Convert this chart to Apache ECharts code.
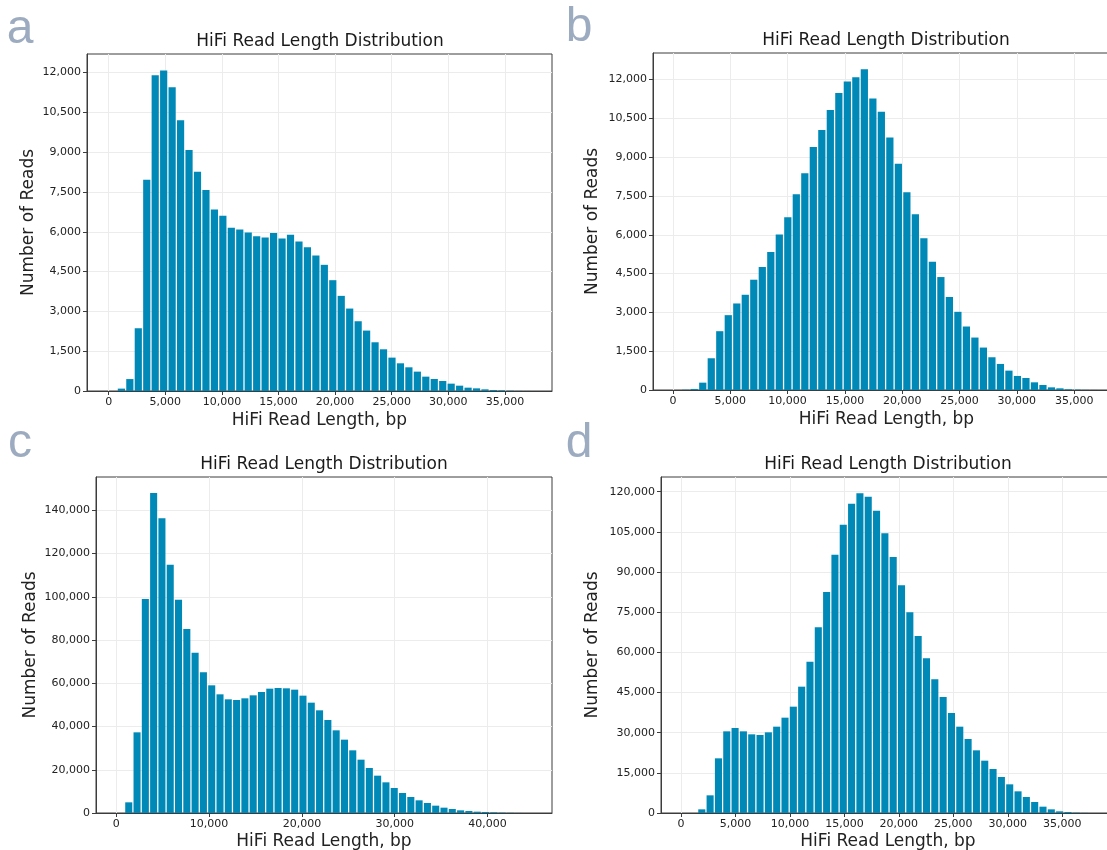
<!DOCTYPE html>
<html><head><meta charset="utf-8">
<script src="https://cdn.jsdelivr.net/npm/echarts@6/dist/echarts.min.js"></script>
<style>html,body{margin:0;padding:0;background:#fff}#c{width:1107px;height:850px}</style>
</head><body><div id="c"></div>
<script>
// ---- data (bin counts) ----
const countsA = [0, 90, 450, 2365, 7962, 11900, 12075, 11447, 10201, 9082, 8264, 7572, 6843, 6604, 6151, 6088, 5975, 5836, 5786, 5950, 5748, 5887, 5635, 5421, 5107, 4755, 4176, 3585, 3107, 2629, 2277, 1836, 1572, 1258, 1044, 893, 730, 541, 453, 377, 277, 201, 126, 100, 63, 38, 25, 12, 5, 2];
const countsB = [0, 10, 40, 284, 1227, 2274, 2894, 3346, 3682, 4264, 4755, 5336, 6008, 6680, 7571, 8385, 9393, 10052, 10827, 11486, 11925, 12093, 12403, 11266, 10762, 9767, 8747, 7649, 6796, 5866, 4961, 4367, 3592, 3023, 2455, 2028, 1641, 1266, 1008, 749, 543, 465, 297, 194, 103, 65, 26, 13, 5, 2];
const countsC = [0, 4934, 37311, 98982, 148011, 136293, 114862, 98674, 85106, 74160, 65063, 59050, 54887, 52575, 52266, 53037, 54425, 55967, 57508, 57817, 57663, 57046, 54271, 51033, 47487, 43016, 38236, 33919, 28985, 24668, 20814, 17268, 14184, 11563, 9251, 7400, 5859, 4625, 3392, 2467, 1850, 1233, 925, 617, 463, 308, 154, 80, 30, 10];
const countsD = [0, 0, 1369, 6598, 20416, 30499, 31744, 30499, 29379, 29130, 30126, 32242, 35603, 39711, 47180, 56517, 69339, 82535, 96477, 107681, 115523, 119382, 118138, 112909, 104444, 95605, 85024, 74941, 66102, 57762, 49919, 43321, 37346, 32242, 27636, 23403, 19544, 16432, 13444, 10706, 8092, 5975, 4108, 2365, 1369, 622, 373, 124, 40, 10];
// bin widths (bp) of each histogram
const binWidths = [747, 742, 894, 764];
// tick labels
const xTicksA = [0, 5000, 10000, 15000, 20000, 25000, 30000, 35000];
const xTicksB = [0, 5000, 10000, 15000, 20000, 25000, 30000, 35000];
const xTicksC = [0, 10000, 20000, 30000, 40000];
const xTicksD = [0, 5000, 10000, 15000, 20000, 25000, 30000, 35000];
const yTicksA = [0, 1500, 3000, 4500, 6000, 7500, 9000, 10500, 12000];
const yTicksB = [0, 1500, 3000, 4500, 6000, 7500, 9000, 10500, 12000];
const yTicksC = [0, 20000, 40000, 60000, 80000, 100000, 120000, 140000];
const yTicksD = [0, 15000, 30000, 45000, 60000, 75000, 90000, 105000, 120000];
const panelLetters = ['a', 'b', 'c', 'd'];
const titleText = 'HiFi Read Length Distribution';
const xName = 'HiFi Read Length, bp';
const yName = 'Number of Reads';

// ---- layout / styling ----
const counts = [countsA, countsB, countsC, countsD];
const xTicks = [xTicksA, xTicksB, xTicksC, xTicksD];
const yTicks = [yTicksA, yTicksB, yTicksC, yTicksD];
const layout = [
  {left: 87, top: 54, width: 465, height: 337, xMin: -1917, xMax: 39160, yMax: 12700, xInt: 5000, yInt: 1500, yGap: 50, xGap: 21, letter: [20, 30], title: [320, 42]},
  {left: 653, top: 53, width: 467, height: 337, xMin: -1745, xMax: 39000, yMax: 13030, xInt: 5000, yInt: 1500, yGap: 52, xGap: 21, letter: [579, 28], title: [886, 41]},
  {left: 96, top: 477, width: 456, height: 336, xMin: -2188, xMax: 46950, yMax: 155400, xInt: 10000, yInt: 20000, yGap: 57, xGap: 20, letter: [20, 444], title: [324, 465]},
  {left: 661, top: 477, width: 454, height: 336, xMin: -1835, xMax: 39844, yMax: 125480, xInt: 5000, yInt: 15000, yGap: 60, xGap: 20, letter: [579, 444], title: [888, 465]}
];
const FONT = 'DejaVu Sans';
const frameColor = '#3c3c3c';
const gridColor = '#ececec';
const barColor = '#0089b7';
const fmt = v => Number(v).toLocaleString('en-US');

const grids = [], xAxes = [], yAxes = [], series = [], graphics = [];
layout.forEach((p, i) => {
  grids.push({left: p.left, top: p.top, width: p.width, height: p.height, show: true,
    borderColor: frameColor, borderWidth: 1, backgroundColor: 'transparent', containLabel: false, outerBoundsMode: 'none'});
  xAxes.push({type: 'value', gridIndex: i, min: p.xMin, max: p.xMax, minInterval: p.xInt, maxInterval: p.xInt, splitNumber: 8,
    axisLine: {show: true, onZero: false, lineStyle: {color: frameColor, width: 1}},
    axisTick: {show: true, length: 4, lineStyle: {color: frameColor}, customValues: xTicks[i]},
    axisLabel: {customValues: xTicks[i], color: '#222', fontFamily: FONT, fontSize: 11, margin: 6, formatter: fmt},
    splitLine: {show: true, lineStyle: {color: gridColor, width: 1}},
    name: xName, nameLocation: 'middle', nameGap: p.xGap,
    nameTextStyle: {fontFamily: FONT, fontSize: 17, color: '#222'}});
  yAxes.push({type: 'value', gridIndex: i, min: 0, max: p.yMax, minInterval: p.yInt, maxInterval: p.yInt, splitNumber: 8,
    axisLine: {show: true, onZero: false, lineStyle: {color: frameColor, width: 1}},
    axisTick: {show: true, length: 4, lineStyle: {color: frameColor}, customValues: yTicks[i]},
    axisLabel: {customValues: yTicks[i], color: '#222', fontFamily: FONT, fontSize: 11, margin: 6, formatter: fmt},
    splitLine: {show: true, lineStyle: {color: gridColor, width: 1}},
    name: yName, nameLocation: 'middle', nameGap: p.yGap,
    nameTextStyle: {fontFamily: FONT, fontSize: 17, color: '#222'}});
  series.push({type: 'bar', xAxisIndex: i, yAxisIndex: i, barWidth: '85%', silent: true,
    itemStyle: {color: barColor},
    data: counts[i].map((c, k) => [binWidths[i] * (k + 0.5), c])});
  graphics.push({type: 'text', x: p.title[0], y: p.title[1], silent: true,
    style: {text: titleText, fill: '#1a1a1a', font: '17px "DejaVu Sans"', textAlign: 'center', textVerticalAlign: 'middle', align: 'center', verticalAlign: 'middle'}});
  graphics.push({type: 'text', x: p.letter[0], y: p.letter[1], silent: true,
    style: {text: panelLetters[i], fill: '#9dabc1', font: '48px "Liberation Sans"', textAlign: 'center', textVerticalAlign: 'middle', align: 'center', verticalAlign: 'middle'}});
});

const chart = echarts.init(document.getElementById('c'), null, {renderer: 'canvas', width: 1107, height: 850});
chart.setOption({
  animation: false,
  backgroundColor: '#ffffff',
  grid: grids, xAxis: xAxes, yAxis: yAxes, series: series,
  graphic: graphics
});
</script></body></html>
